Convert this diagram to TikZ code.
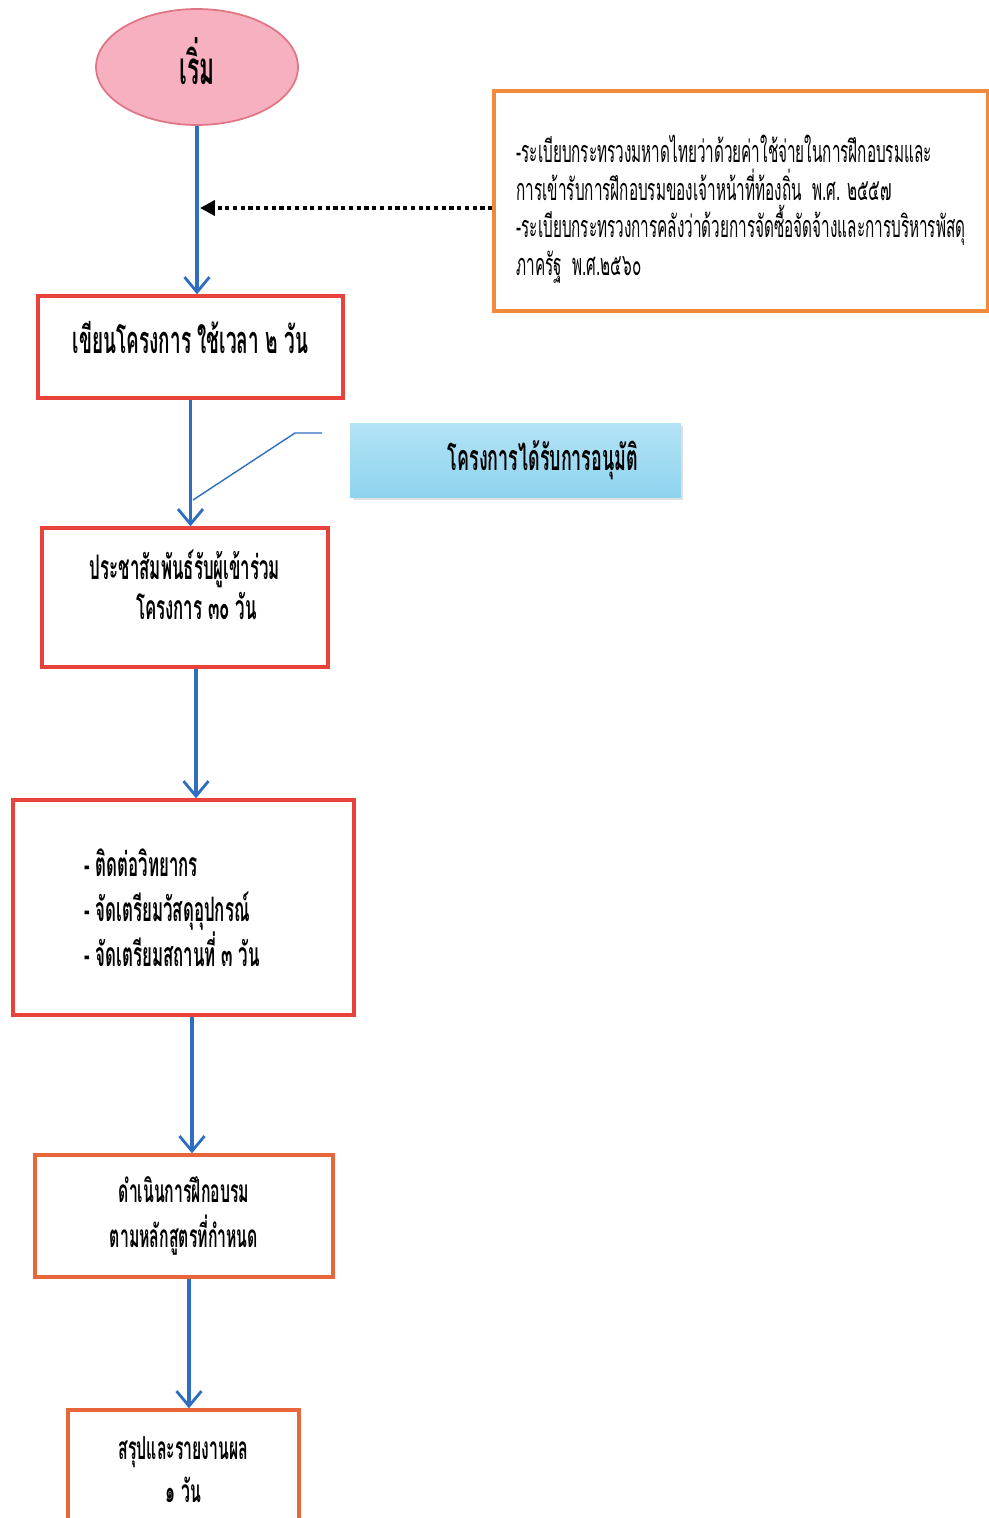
\documentclass[tikz,border=0pt]{standalone}
\usepackage{fontspec}
\newfontfamily\thaifont[Script=Thai,FakeStretch=0.5]{Loma}
\usepackage{tikz}
\usetikzlibrary{arrows.meta,shapes.geometric,shadows}
\definecolor{startpink}{HTML}{F6B0BF}
\definecolor{startline}{HTML}{E07585}
\definecolor{boxred}{HTML}{E8423A}
\definecolor{boxorange}{HTML}{F28A3C}
\definecolor{boxrust}{HTML}{E8663A}
\definecolor{flowblue}{HTML}{2E6DC0}
\definecolor{notetop}{HTML}{B4E3F5}
\definecolor{notebottom}{HTML}{8ED4EF}
\tikzset{
flow/.style={-{Straight Barb[length=0.3cm,width=0.5cm,line width=1.6pt]}, flowblue, line width=2pt}, % blue step arrows
ref/.style={-{Triangle[length=0.3cm,width=0.3cm]}, black, line width=2.4pt, dotted}, % the dotted rule arrow
stepbox/.style={draw=boxred, line width=2pt, fill=white, font=\thaifont\bfseries, align=center}, % every step of the plan
startnode/.style={ellipse, draw=startline, line width=1pt, fill=startpink, inner sep=0pt, font=\thaifont\bfseries\fontsize{26}{30}\selectfont}, % the start
}
\begin{document}
\begin{tikzpicture}[x=0.02cm, y=-0.02cm]
\useasboundingbox (0,0) rectangle (989,1518);
\clip (0,0) rectangle (989,1518);

\node[startnode, minimum width=4.04cm, minimum height=2.32cm] (start) at (197,67) {\raisebox{0.24cm}{เริ่ม}};

\node[stepbox, draw=boxorange, align=left, font=\thaifont\fontsize{17.4}{21.6}\selectfont, minimum width=9.88cm, minimum height=4.4cm] (rules) at (741,201)
{\mbox{}\\[0.12cm]
-ระเบียบกระทรวงมหาดไทยว่าด้วยค่าใช้จ่ายในการฝึกอบรมและ\\
การเข้ารับการฝึกอบรมของเจ้าหน้าที่ท้องถิ่น\ \ พ.ศ. ๒๕๕๗\\
-ระเบียบกระทรวงการคลังว่าด้วยการจัดซื้อจัดจ้างและการบริหารพัสดุ\\
ภาครัฐ\ \ พ.ศ.๒๕๖๐};

\node[stepbox, font=\thaifont\bfseries\fontsize{21.6}{24}\selectfont, minimum width=6.1cm, minimum height=2.04cm] (write) at (190.5,347) {เขียนโครงการ ใช้เวลา ๒ วัน\\[-0.45cm]\mbox{}};

\node[draw=none, top color=notetop, bottom color=notebottom, drop shadow={opacity=0.25, shadow xshift=0.05cm, shadow yshift=-0.06cm}, minimum width=6.62cm, minimum height=1.48cm, font=\thaifont\bfseries\fontsize{20.4}{24}\selectfont] (approved) at (515.5,460) {\hspace{1.1cm}โครงการได้รับการอนุมัติ};

\node[stepbox, font=\thaifont\bfseries\fontsize{19.2}{23}\selectfont, minimum width=5.72cm, minimum height=2.78cm] (publicise) at (185,597.5) {ประชาสัมพันธ์รับผู้เข้าร่วม\\ \ \ \ \ โครงการ ๓๐ วัน\\[-0.3cm]\mbox{}};

\node[stepbox, align=left, font=\thaifont\bfseries\fontsize{19.2}{25.6}\selectfont, minimum width=6.82cm, minimum height=4.3cm] (prepare) at (183.5,907.5) {- ติดต่อวิทยากร\\ - จัดเตรียมวัสดุอุปกรณ์\\ - จัดเตรียมสถานที่ ๓ วัน\hspace{0.45cm}\mbox{}};

\node[stepbox, draw=boxrust, font=\thaifont\bfseries\fontsize{18}{25.6}\selectfont, minimum width=5.96cm, minimum height=2.44cm] (train) at (184,1216) {ดำเนินการฝึกอบรม\\ ตามหลักสูตรที่กำหนด};

\node[stepbox, draw=boxrust, font=\thaifont\bfseries\fontsize{18}{25}\selectfont, minimum width=4.62cm, minimum height=2.8cm] (report) at (183.5,1480) {สรุปและรายงานผล\\ ๑ วัน\\[-0.46cm]\mbox{}};

\coordinate (refend) at (200,208);
\coordinate (tick) at (193,500);

\draw[flow] (start.south) -- (start.south |- write.north);
\draw[flow] (write.south) -- (write.south |- publicise.north);
\draw[flow] ([xshift=0.22cm]publicise.south) -- ([xshift=0.22cm]publicise.south |- prepare.north);
\draw[flow] ([xshift=0.17cm]prepare.south) -- ([xshift=0.17cm]prepare.south |- train.north);
\draw[flow] ([xshift=0.1cm]train.south) -- ([xshift=0.1cm]train.south |- report.north);
\draw[ref] (rules.west |- refend) -- (refend);
\draw[flowblue, line width=0.8pt] (tick) -- (295,433) -- (322,433);

\end{tikzpicture}
\end{document}
